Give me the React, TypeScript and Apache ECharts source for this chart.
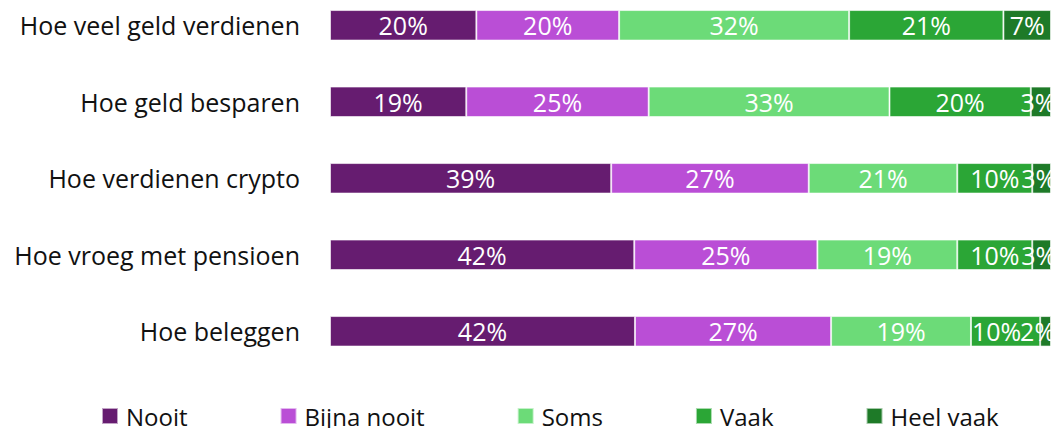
import React, { useEffect, useRef } from "react";
import * as echarts from "echarts";

const categories = [
  "Hoe veel geld verdienen",
  "Hoe geld besparen",
  "Hoe verdienen crypto",
  "Hoe vroeg met pensioen",
  "Hoe beleggen",
];
const seriesNames = ["Nooit", "Bijna nooit", "Soms", "Vaak", "Heel vaak"];
const nooit = [20.3, 18.9, 39.0, 42.2, 42.3];
const bijnaNooit = [19.8, 25.3, 27.4, 25.4, 27.2];
const soms = [31.9, 33.4, 20.6, 19.4, 19.4];
const vaak = [21.4, 19.6, 10.4, 10.4, 9.6];
const heelVaak = [6.6, 2.8, 2.6, 2.6, 1.5];
const colors = ["#661C70", "#BA4ED6", "#6CDB78", "#2BA636", "#1E7A28"];

export default function App() {
  const ref = useRef<HTMLDivElement>(null);
  useEffect(() => {
    document.body.style.margin = "0";
    const chart = echarts.init(ref.current!, null, { renderer: "svg" });
    const values = [nooit, bijnaNooit, soms, vaak, heelVaak];
    const font = "'Open Sans', Lato, sans-serif";
    const labelShift = (si: number, v: number, next?: number) => {
      if (si === 4 && v < 5) return v < 2 ? -8 : -3;
      if (si === 3 && next !== undefined && next < 2) return -9;
      return 0;
    };
    chart.setOption({
      animation: false,
      textStyle: { fontFamily: font },
      grid: { left: 330, right: 4, top: 25.3, bottom: 96.7, containLabel: false },
      legend: {
        left: 101,
        top: 404,
        padding: 0,
        icon: "rect",
        itemWidth: 16,
        itemHeight: 16,
        itemGap: 92,
        textStyle: {
          fontSize: 24,
          lineHeight: 24,
          color: "#111",
          fontFamily: font,
          padding: [0, 0, 0, 3],
        },
        data: seriesNames,
      },
      xAxis: { type: "value", min: 0, max: 100, show: false },
      yAxis: {
        type: "category",
        data: categories,
        inverse: true,
        boundaryGap: false,
        axisLine: { show: false },
        axisTick: { show: false },
        splitLine: { show: false },
        axisLabel: { margin: 30, fontSize: 25, color: "#111", fontFamily: font },
      },
      series: seriesNames.map((name, i) => ({
        name,
        type: "bar",
        stack: "total",
        barWidth: 30.5,
        data: values[i].map((v, j) => {
          const dx = labelShift(i, v, i === 3 ? heelVaak[j] : undefined);
          return dx ? { value: v, label: { offset: [dx, 0] } } : v;
        }),
        itemStyle: { color: colors[i], borderColor: "rgba(255,255,255,0.6)", borderWidth: 1 },
        label: {
          show: true,
          position: "inside",
          formatter: (p: any) => Math.round(p.value) + "%",
          color: "#fff",
          fontSize: 25,
          fontFamily: font,
        },
      })),
    });
    return () => chart.dispose();
  }, []);
  return <div ref={ref} style={{ width: 1055, height: 428 }} />;
}
